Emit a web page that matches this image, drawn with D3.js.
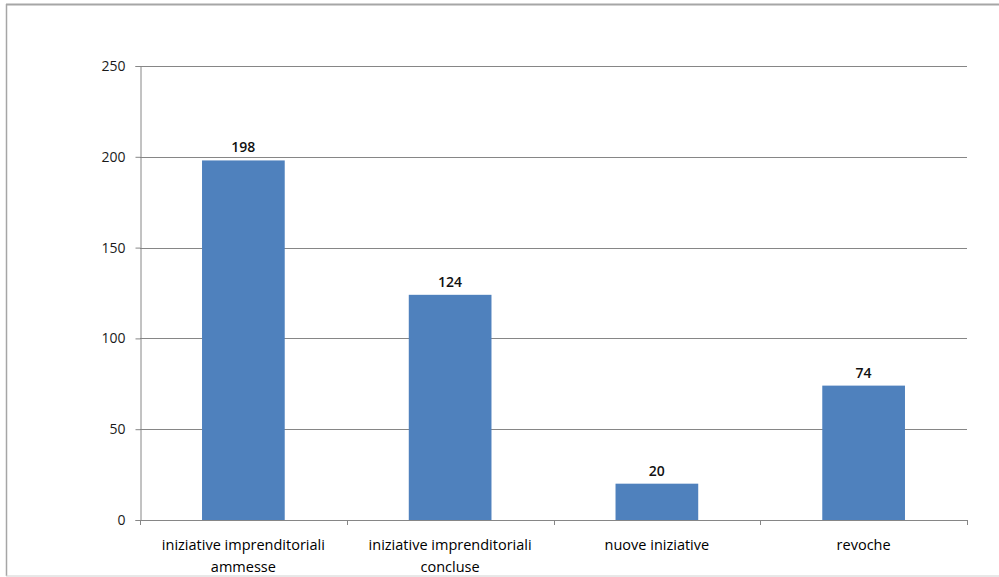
<!DOCTYPE html>
<html>
<head>
<meta charset="utf-8">
<script src="https://cdn.jsdelivr.net/npm/d3@7/dist/d3.min.js"></script>
<style>
html,body{margin:0;padding:0;background:#fff;}
svg{display:block;}
</style>
</head>
<body>
<svg id="chart" width="999" height="577"></svg>
<script>
const categories = [
  ["iniziative imprenditoriali", "ammesse"],
  ["iniziative imprenditoriali", "concluse"],
  ["nuove iniziative"],
  ["revoche"]
];
const values = [198, 124, 20, 74];
const yTicks = [0, 50, 100, 150, 200, 250];

const svg = d3.select("#chart");
const font = "'Open Sans', 'DejaVu Sans', sans-serif";

// outer frame
svg.append("line").attr("x1", 6).attr("x2", 999).attr("y1", 4.5).attr("y2", 4.5)
  .attr("stroke", "#a6a6a6").attr("stroke-width", 2);
svg.append("line").attr("x1", 6.5).attr("x2", 6.5).attr("y1", 4).attr("y2", 576)
  .attr("stroke", "#a6a6a6").attr("stroke-width", 1.5);
svg.append("line").attr("x1", 6).attr("x2", 999).attr("y1", 576).attr("y2", 576)
  .attr("stroke", "#d0d0d0").attr("stroke-width", 1);

const pLeft = 140, pRight = 967, pTop = 66, pBottom = 520;

const x = d3.scaleBand().domain(d3.range(categories.length))
  .range([pLeft, pRight]).paddingInner(0.6).paddingOuter(0.3);
const xb = d3.scaleBand().domain(d3.range(categories.length)).range([pLeft, pRight]).padding(0);
const y = d3.scaleLinear().domain([0, 250]).range([pBottom, pTop]);

// gridlines
svg.append("g").selectAll("line").data(yTicks.filter(d => d > 0)).join("line")
  .attr("x1", pLeft).attr("x2", pRight)
  .attr("y1", d => Math.round(y(d)) + 0.5).attr("y2", d => Math.round(y(d)) + 0.5)
  .attr("stroke", "#868686").attr("stroke-width", 1);

// bars
svg.append("g").selectAll("rect").data(values).join("rect")
  .attr("x", (d, i) => x(i)).attr("width", x.bandwidth())
  .attr("y", d => y(d)).attr("height", d => y(0) - y(d))
  .attr("fill", "#4f81bd");

// y axis
const yAxis = d3.axisLeft(y).tickValues(yTicks).tickSize(5).tickPadding(10);
const gy = svg.append("g").attr("transform", `translate(${pLeft + 0.5},0)`).call(yAxis);
gy.select(".domain").attr("stroke", "#868686");
gy.selectAll(".tick line").attr("stroke", "#868686");
gy.selectAll(".tick text").attr("font-family", font).attr("font-size", 14).attr("fill", "#1a1a1a");

// x axis baseline and ticks
const gx = svg.append("g");
gx.append("line").attr("x1", pLeft).attr("x2", pRight)
  .attr("y1", pBottom + 0.5).attr("y2", pBottom + 0.5).attr("stroke", "#868686");
const bounds = d3.range(categories.length + 1).map(i => i < categories.length ? xb(i) : pRight);
gx.selectAll("line.t").data(bounds).join("line").attr("class", "t")
  .attr("x1", d => Math.round(d) + 0.5).attr("x2", d => Math.round(d) + 0.5)
  .attr("y1", pBottom).attr("y2", pBottom + 5).attr("stroke", "#868686");

// category labels
const lab = svg.append("g").selectAll("text").data(categories).join("text")
  .attr("x", (d, i) => xb(i) + xb.bandwidth() / 2)
  .attr("y", 550)
  .attr("text-anchor", "middle")
  .attr("font-family", font).attr("font-size", 14.5).attr("fill", "#000");
lab.selectAll("tspan").data(d => d).join("tspan")
  .attr("x", function() { return this.parentNode.getAttribute("x"); })
  .attr("dy", (d, j) => j === 0 ? 0 : 22)
  .text(d => d);

// value labels
svg.append("g").selectAll("text").data(values).join("text")
  .attr("x", (d, i) => x(i) + x.bandwidth() / 2)
  .attr("y", d => y(d) - 8)
  .attr("text-anchor", "middle")
  .attr("font-family", font).attr("font-size", 14).attr("font-weight", 600)
  .attr("fill", "#111")
  .text(d => d);
</script>
</body>
</html>
